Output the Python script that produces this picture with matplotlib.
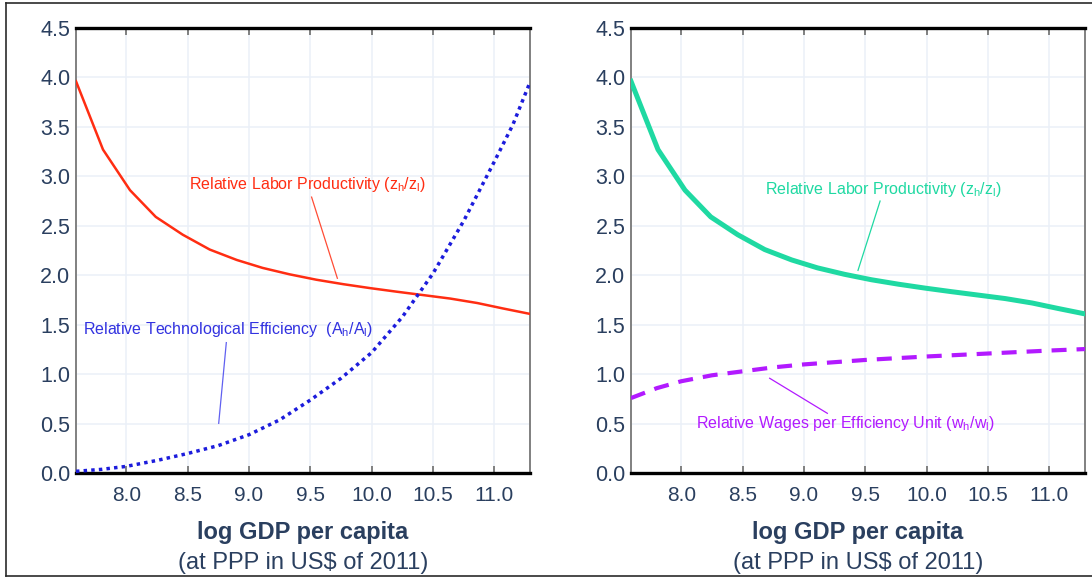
import matplotlib
matplotlib.use("Agg")
import matplotlib.pyplot as plt
from matplotlib.lines import Line2D

plt.rcParams['font.family'] = ['Liberation Sans', 'DejaVu Sans']
plt.rcParams['mathtext.fontset'] = 'custom'
plt.rcParams['mathtext.rm'] = 'Liberation Sans'

# log GDP per capita grid
log_gdp = [7.59, 7.81, 8.03, 8.24, 8.46, 8.68, 8.90, 9.11, 9.33, 9.55,
           9.77, 9.99, 10.20, 10.42, 10.64, 10.86, 11.07, 11.29]
# relative labor productivity z_h / z_l
labor_prod = [3.96, 3.27, 2.86, 2.59, 2.41, 2.26, 2.155, 2.075, 2.01, 1.955,
              1.91, 1.87, 1.835, 1.80, 1.765, 1.72, 1.665, 1.61]

# relative technological efficiency A_h / A_l
tech_x = [7.59, 7.80, 8.00, 8.25, 8.50, 8.75, 9.00, 9.25, 9.50, 9.75,
          10.00, 10.25, 10.50, 10.75, 11.00, 11.15, 11.29]
tech_eff = [0.02, 0.04, 0.07, 0.13, 0.20, 0.28, 0.39, 0.54, 0.74, 0.96,
            1.22, 1.58, 2.02, 2.55, 3.15, 3.52, 3.95]

# relative wages per efficiency unit w_h / w_l
wage_x = [7.59, 7.80, 8.00, 8.25, 8.50, 8.75, 9.00, 9.50, 10.00, 10.50, 11.00, 11.29]
wage_eff = [0.76, 0.86, 0.93, 0.99, 1.03, 1.07, 1.10, 1.145, 1.18, 1.21, 1.24, 1.255]

xticks = [8.0, 8.5, 9.0, 9.5, 10.0, 10.5, 11.0]
yticks = [0.0, 0.5, 1.0, 1.5, 2.0, 2.5, 3.0, 3.5, 4.0, 4.5]

TEXT = '#2a3f5f'
GRID = '#ebf0f8'
RED = '#ff2d12'
BLUE = '#1c1cdc'
BLUE_TXT = '#3232e0'
GREEN = '#1fd9a2'
PURPLE = '#b21aff'

W, H = 1092, 578
fig = plt.figure(figsize=(W / 100, H / 100), dpi=100)

def px_axes(x0, x1, ytop, ybot):
    return fig.add_axes([x0 / W, (H - ybot) / H, (x1 - x0) / W, (ybot - ytop) / H])

def style(ax):
    ax.set_xlim(7.59, 11.29)
    ax.set_ylim(0, 4.5)
    ax.set_xticks(xticks)
    ax.set_xticklabels([f"{t:.1f}" for t in xticks])
    ax.set_yticks(yticks)
    ax.set_yticklabels([f"{t:.1f}" for t in yticks])
    ax.grid(True, color=GRID, lw=1.1)
    ax.set_axisbelow(True)
    ax.tick_params(axis='x', direction='in', top=True, bottom=True, length=5,
                   width=1.3, color='#777777', labelsize=15, labelcolor=TEXT, pad=9)
    ax.tick_params(axis='y', length=0, labelsize=15.5, labelcolor=TEXT, pad=4)
    for s in ('top', 'bottom'):
        ax.spines[s].set_color('black')
        ax.spines[s].set_linewidth(2.4)
    for s in ('left', 'right'):
        ax.spines[s].set_color('#808080')
        ax.spines[s].set_linewidth(1.4)
    cx = (ax.get_position().x0 + ax.get_position().x1) / 2
    fig.text(cx, 1 - 532 / H, 'log GDP per capita', ha='center', va='center',
             fontsize=17, fontweight='bold', color=TEXT)
    fig.text(cx, 1 - 563 / H, '(at PPP in US$ of 2011)', ha='center', va='center',
             fontsize=17, color=TEXT)

# left panel
ax1 = px_axes(76, 530, 27.8, 473.3)
style(ax1)
ax1.plot(log_gdp, labor_prod, color=RED, lw=1.8, zorder=3)
ax1.plot(tech_x, tech_eff, color=BLUE, lw=2.5, linestyle=(0, (1, 1.2)),
         dash_capstyle='butt', zorder=3)
ax1.text(9.48, 2.92, r'Relative Labor Productivity (z$_\mathregular{h}$/z$_\mathregular{l}$)',
         color=RED, fontsize=11.5, ha='center', va='center')
ax1.plot([9.51, 9.72], [2.79, 1.97], color=RED, lw=0.9, alpha=0.85)
ax1.text(8.83, 1.45, r'Relative Technological Efficiency  (A$_\mathregular{h}$/A$_\mathregular{l}$)',
         color=BLUE_TXT, fontsize=11.5, ha='center', va='center')
ax1.plot([8.815, 8.753], [1.32, 0.505], color='#4444ee', lw=0.9, alpha=0.85)

# right panel
ax2 = px_axes(631, 1085, 27.8, 473.3)
style(ax2)
ax2.plot(log_gdp, labor_prod, color=GREEN, lw=3.6, zorder=3)
ax2.plot(wage_x, wage_eff, color=PURPLE, lw=3.0, linestyle=(0, (3.6, 2.4)),
         dash_capstyle='butt', zorder=3)
ax2.text(9.645, 2.87, r'Relative Labor Productivity (z$_\mathregular{h}$/z$_\mathregular{l}$)',
         color=GREEN, fontsize=11.5, ha='center', va='center')
ax2.plot([9.62, 9.44], [2.75, 2.05], color=GREEN, lw=0.9)
ax2.text(9.34, 0.50, r'Relative Wages per Efficiency Unit (w$_\mathregular{h}$/w$_\mathregular{l}$)',
         color=PURPLE, fontsize=11.5, ha='center', va='center')
ax2.plot([8.72, 9.19], [0.96, 0.606], color=PURPLE, lw=0.9)

# frame around the figure
frame_kw = dict(color='#2b2b2b', lw=1.2, transform=fig.transFigure)
fig.add_artist(Line2D([6 / W, 6 / W], [1 - 3 / H, 1 - 576 / H], **frame_kw))
fig.add_artist(Line2D([6 / W, 1], [1 - 3 / H, 1 - 3 / H], **frame_kw))
fig.add_artist(Line2D([6 / W, 1], [1 - 576 / H, 1 - 576 / H], **frame_kw))

fig.savefig('out.png', dpi=100, facecolor='white')
